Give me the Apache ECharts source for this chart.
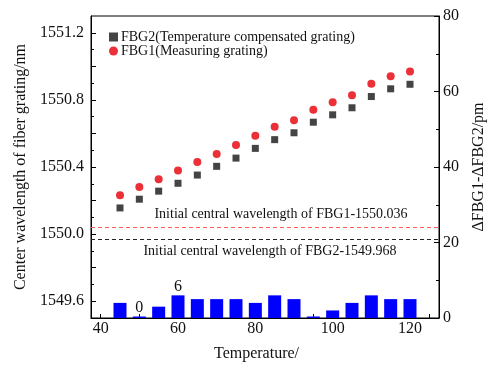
<!DOCTYPE html>
<html>
<head>
<meta charset="utf-8">
<script src="https://cdn.jsdelivr.net/npm/echarts@6/dist/echarts.min.js"></script>
<style>html,body{margin:0;padding:0;background:#fff}#c{width:497px;height:367px}</style>
</head>
<body>
<div id="c"></div>
<script>
// ---- data ----
var temps = [45, 50, 55, 60, 65, 70, 75, 80, 85, 90, 95, 100, 105, 110, 115, 120];
var fbg2 = [1550.156, 1550.208, 1550.256, 1550.303, 1550.352, 1550.404, 1550.453, 1550.511, 1550.563, 1550.604, 1550.667, 1550.711, 1550.753, 1550.820, 1550.866, 1550.893];
var fbg1 = [1550.232, 1550.281, 1550.327, 1550.379, 1550.430, 1550.478, 1550.531, 1550.587, 1550.640, 1550.679, 1550.741, 1550.786, 1550.828, 1550.896, 1550.941, 1550.969];
var diff = [4, 0, 3, 6, 5, 5, 5, 4, 6, 5, 0, 2, 4, 6, 5, 5];
var labeledTemps = [50, 60];
var fbg1Initial = 1550.036;
var fbg2Initial = 1549.968;
var xTickLabels = [40, 60, 80, 100, 120];
var xTicks = [40, 45, 50, 55, 60, 65, 70, 75, 80, 85, 90, 95, 100, 105, 110, 115, 120, 125];
var yLeftLabels = [1549.6, 1550.0, 1550.4, 1550.8, 1551.2];
var yLeftMajorTicks = [1549.6, 1549.8, 1550.0, 1550.2, 1550.4, 1550.6, 1550.8, 1551.0, 1551.2];
var yLeftMinorTicks = [1549.7, 1549.9, 1550.1, 1550.3, 1550.5, 1550.7, 1550.9, 1551.1];
var yRightLabels = [0, 20, 40, 60, 80];
var yRightMinorTicks = [10, 30, 50, 70];

var serif = 'Liberation Serif, Times New Roman, serif';
var zip = function (xs, ys) { return xs.map(function (x, i) { return [x, ys[i]]; }); };
var barData = temps.map(function (t, i) {
  var item = { value: [t, diff[i]] };
  if (labeledTemps.indexOf(t) >= 0) {
    item.label = { show: true, position: 'top', distance: 1, formatter: String(diff[i]),
      fontFamily: serif, fontSize: 16, color: '#111' };
  }
  return item;
});

var chart = echarts.init(document.getElementById('c'), null, { renderer: 'canvas' });
var axisLine = { show: true, lineStyle: { color: '#000', width: 1 } };
chart.setOption({
  animation: false,
  backgroundColor: '#fff',
  grid: { left: 91, right: 58, top: 16, bottom: 48, show: true, borderColor: '#000', borderWidth: 1, backgroundColor: 'transparent' },
  legend: {
    orient: 'vertical', left: 104, top: 25, itemGap: 0, itemWidth: 9, itemHeight: 9,
    data: [{ name: 'FBG2(Temperature compensated grating)', icon: 'rect' }, { name: 'FBG1(Measuring grating)', icon: 'circle' }],
    textStyle: { fontFamily: serif, fontSize: 14, color: '#111', padding: [0, 0, 0, -2] }
  },
  xAxis: [{
    type: 'value', min: 37.5, max: 127.5,
    name: 'Temperature/', nameLocation: 'middle', nameGap: 28,
    nameTextStyle: { fontFamily: serif, fontSize: 16, color: '#111', padding: [0, 17, 0, 0] },
    axisLine: axisLine,
    axisTick: { show: true, inside: true, length: 4, customValues: xTicks, lineStyle: { color: '#000' } },
    axisLabel: { customValues: xTickLabels, margin: 3, fontFamily: serif, fontSize: 16, color: '#111' },
    splitLine: { show: false }
  }],
  yAxis: [{
    type: 'value', min: 1549.5, max: 1551.3, position: 'left',
    name: 'Center wavelength of fiber grating/nm', nameLocation: 'middle', nameGap: 60,
    nameTextStyle: { fontFamily: serif, fontSize: 16, color: '#111' },
    axisLine: axisLine,
    axisTick: { show: true, inside: true, length: 5, customValues: yLeftMajorTicks, lineStyle: { color: '#000' } },
    axisLabel: { customValues: yLeftLabels, margin: 7, fontFamily: serif, fontSize: 16, color: '#111',
      formatter: function (v) { return v.toFixed(1); } },
    splitLine: { show: false }
  }, {
    type: 'value', min: 0, max: 80, position: 'right',
    name: '\u0394FBG1-\u0394FBG2/pm', nameLocation: 'middle', nameGap: 32, nameRotate: 90,
    nameTextStyle: { fontFamily: serif, fontSize: 16, color: '#111' },
    axisLine: axisLine,
    axisTick: { show: true, inside: true, length: 5, customValues: yRightLabels, lineStyle: { color: '#000' } },
    axisLabel: { customValues: yRightLabels, margin: 4, fontFamily: serif, fontSize: 16, color: '#111' },
    splitLine: { show: false }
  }, {
    type: 'value', min: 1549.5, max: 1551.3, position: 'left',
    axisLine: { show: false },
    axisTick: { show: true, inside: true, length: 3, customValues: yLeftMinorTicks, lineStyle: { color: '#000' } },
    axisLabel: { show: false }, splitLine: { show: false }
  }, {
    type: 'value', min: 0, max: 80, position: 'right',
    axisLine: { show: false },
    axisTick: { show: true, inside: true, length: 3, customValues: yRightMinorTicks, lineStyle: { color: '#000' } },
    axisLabel: { show: false }, splitLine: { show: false }
  }],
  series: [{
    name: 'ΔFBG', type: 'bar', xAxisIndex: 0, yAxisIndex: 1, barWidth: 13, barMinHeight: 1.5,
    itemStyle: { color: '#0000ff', opacity: 1 }, data: barData, z: 2
  }, {
    name: 'FBG2(Temperature compensated grating)', type: 'scatter', yAxisIndex: 0, symbol: 'rect', symbolSize: 7,
    itemStyle: { color: '#444444', opacity: 1 }, data: zip(temps, fbg2), z: 4,
    markLine: { silent: true, symbol: 'none', label: { show: false },
      lineStyle: { color: '#222', type: [4, 3], width: 1 }, data: [{ yAxis: fbg2Initial }] }
  }, {
    name: 'FBG1(Measuring grating)', type: 'scatter', yAxisIndex: 0, symbol: 'circle', symbolSize: 8,
    itemStyle: { color: '#ec3037', opacity: 1 }, data: zip(temps, fbg1), z: 5,
    markLine: { silent: true, symbol: 'none', label: { show: false },
      lineStyle: { color: '#ff5a5a', type: [4, 3], width: 1 }, data: [{ yAxis: fbg1Initial }] }
  }],
  graphic: [{
    type: 'text', x: 281, y: 214, style: { text: 'Initial central wavelength of FBG1-' + fbg1Initial.toFixed(3),
      font: '14px ' + serif, fill: '#111', align: 'center', verticalAlign: 'middle' }
  }, {
    type: 'text', x: 270, y: 251, style: { text: 'Initial central wavelength of FBG2-' + fbg2Initial.toFixed(3),
      font: '14px ' + serif, fill: '#111', align: 'center', verticalAlign: 'middle' }
  }]
});
</script>
</body>
</html>
